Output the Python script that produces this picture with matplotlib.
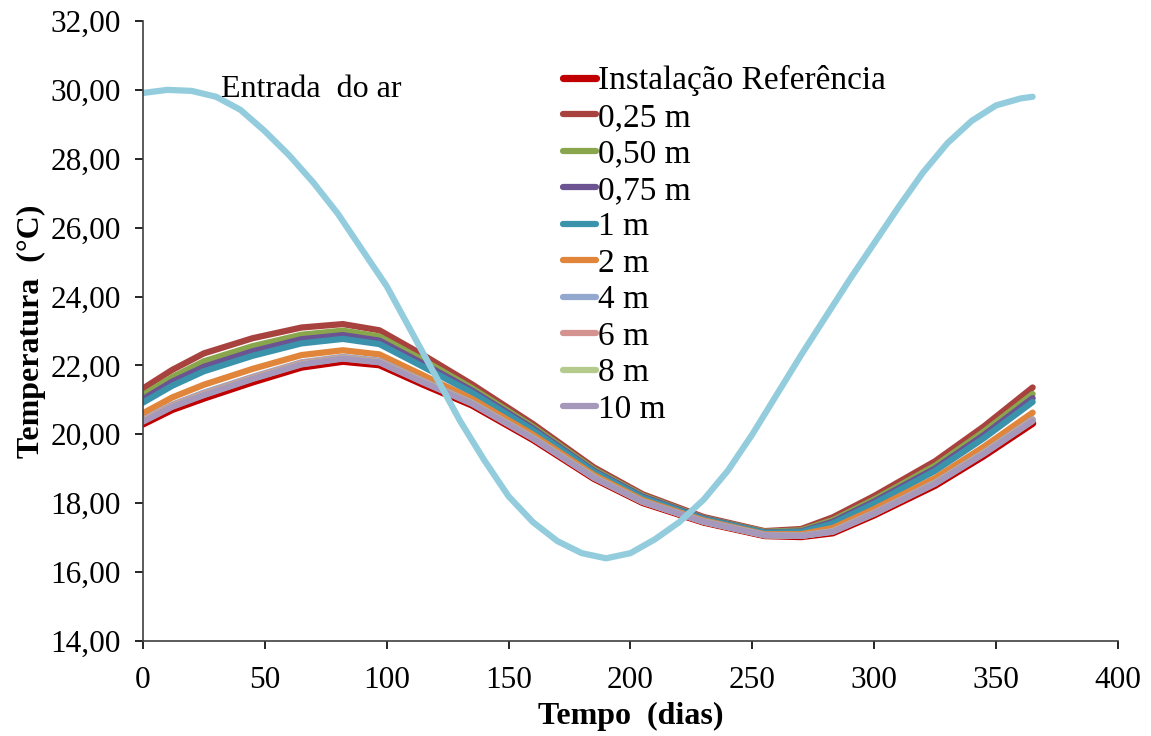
"""
Temperatura ao longo do ano: entrada do ar e saídas para várias profundidades.
"""
import matplotlib
matplotlib.use('Agg')
import matplotlib.pyplot as plt
from matplotlib.ticker import FuncFormatter

plt.rcParams['font.family'] = ['Liberation Serif', 'DejaVu Serif']

# ── dados ─────────────────────────────────────────────────────────────────────
dias = [0, 12, 25, 45, 65, 82, 97, 115, 135, 160, 185, 205, 230, 255, 270,
        283, 300, 325, 345, 365]

t_ref = [20.30, 20.72, 21.05, 21.52, 21.95, 22.12, 22.02, 21.45, 20.85, 19.85,
         18.72, 18.02, 17.45, 17.06, 17.03, 17.14, 17.66, 18.52, 19.38, 20.32]
t_025 = [21.33, 21.87, 22.35, 22.79, 23.10, 23.20, 23.02, 22.30, 21.45, 20.30,
         19.04, 18.26, 17.60, 17.19, 17.25, 17.59, 18.21, 19.22, 20.23, 21.36]
t_050 = [21.14, 21.66, 22.12, 22.56, 22.89, 23.01, 22.84, 22.15, 21.34, 20.22,
         18.98, 18.22, 17.57, 17.17, 17.21, 17.51, 18.11, 19.09, 20.08, 21.17]
t_075 = [21.02, 21.53, 21.96, 22.41, 22.76, 22.88, 22.72, 22.05, 21.27, 20.17,
         18.94, 18.19, 17.56, 17.15, 17.18, 17.46, 18.05, 19.01, 19.98, 21.05]
t_1 = [20.92, 21.41, 21.83, 22.28, 22.64, 22.77, 22.62, 21.96, 21.21, 20.12,
       18.91, 18.16, 17.54, 17.14, 17.16, 17.41, 17.99, 18.94, 19.89, 20.94]
t_2 = [20.61, 21.07, 21.44, 21.90, 22.30, 22.44, 22.32, 21.71, 21.03, 19.99,
       18.82, 18.09, 17.50, 17.10, 17.10, 17.28, 17.83, 18.73, 19.64, 20.63]
t_4 = [20.42, 20.86, 21.21, 21.67, 22.09, 22.25, 22.14, 21.55, 20.92, 19.90,
       18.76, 18.05, 17.47, 17.08, 17.06, 17.19, 17.73, 18.60, 19.48, 20.44]
t_6 = [20.40, 20.84, 21.18, 21.65, 22.07, 22.23, 22.12, 21.54, 20.91, 19.90,
       18.75, 18.04, 17.47, 17.07, 17.05, 17.19, 17.72, 18.59, 19.47, 20.42]
t_8 = [20.38, 20.81, 21.15, 21.62, 22.04, 22.21, 22.10, 21.52, 20.90, 19.89,
       18.75, 18.04, 17.46, 17.07, 17.05, 17.18, 17.70, 18.58, 19.45, 20.40]
t_10 = [20.37, 20.80, 21.14, 21.61, 22.03, 22.20, 22.09, 21.51, 20.89, 19.88,
        18.74, 18.04, 17.46, 17.07, 17.05, 17.17, 17.70, 18.57, 19.44, 20.39]

dias_ar = [0, 10, 20, 30, 40, 50, 60, 70, 80, 90, 100, 110, 120, 130, 140, 150,
           160, 170, 180, 190, 200, 210, 220, 230, 240, 250, 260, 270, 280, 290,
           300, 310, 320, 330, 340, 350, 360, 365]
t_ar = [29.91, 30.00, 29.97, 29.80, 29.42, 28.80, 28.10, 27.30, 26.40, 25.35,
        24.30, 23.00, 21.70, 20.40, 19.25, 18.20, 17.45, 16.90, 16.55, 16.40,
        16.55, 16.95, 17.45, 18.10, 18.95, 20.00, 21.15, 22.30, 23.40, 24.50,
        25.55, 26.60, 27.60, 28.45, 29.10, 29.55, 29.75, 29.80]

series = [
    ('Instalação Referência', t_ref, '#C00000', 5.2),
    ('0,25 m', t_025, '#A8423F', 4.5),
    ('0,50 m', t_050, '#8AA64D', 4.5),
    ('0,75 m', t_075, '#6C5391', 4.5),
    ('1 m',    t_1,   '#3A93AB', 4.5),
    ('2 m',    t_2,   '#E08539', 4.5),
    ('4 m',    t_4,   '#93A8CE', 4.5),
    ('6 m',    t_6,   '#D49391', 4.5),
    ('8 m',    t_8,   '#B5CB8E', 4.5),
    ('10 m',   t_10,  '#A698BA', 4.5),
]

fig = plt.figure(figsize=(11.51, 7.36), dpi=100)
ax = fig.add_axes([0.1242, 0.1291, 0.8471, 0.8424])

for lbl, y, col, lw in series:
    ax.plot(dias, y, color=col, lw=lw, label=lbl, solid_capstyle='round',
            solid_joinstyle='round')

ax.plot(dias_ar, t_ar, color='#93CDDD', lw=4.5, solid_capstyle='round',
        solid_joinstyle='round')
ax.text(32, 30.0, 'Entrada  do ar', fontsize=23, va='center', ha='left')

ax.set_xlim(0, 400)
ax.set_ylim(14, 32)
ax.set_xticks(range(0, 401, 50))
ax.set_yticks(range(14, 33, 2))
ax.yaxis.set_major_formatter(FuncFormatter(lambda v, p: f'{v:.2f}'.replace('.', ',')))
ax.tick_params(direction='out', length=6, width=1.2, labelsize=22.5)
ax.tick_params(axis='x', pad=12)
ax.tick_params(axis='y', pad=10)

for s in ['top', 'right']:
    ax.spines[s].set_visible(False)
for s in ['left', 'bottom']:
    ax.spines[s].set_linewidth(1.2)
    ax.spines[s].set_color('#404040')

ax.set_xlabel('Tempo  (dias)', fontsize=23, fontweight='bold', labelpad=5)
ax.set_ylabel('Temperatura  (°C)', fontsize=23, fontweight='bold', labelpad=3)

ax.legend(loc='upper left', bbox_to_anchor=(0.417, 0.95), frameon=False,
          fontsize=24, handlelength=1.0, handletextpad=0.05,
          labelspacing=0.18, borderaxespad=0)

plt.savefig('out.png', dpi=100)
plt.close()
